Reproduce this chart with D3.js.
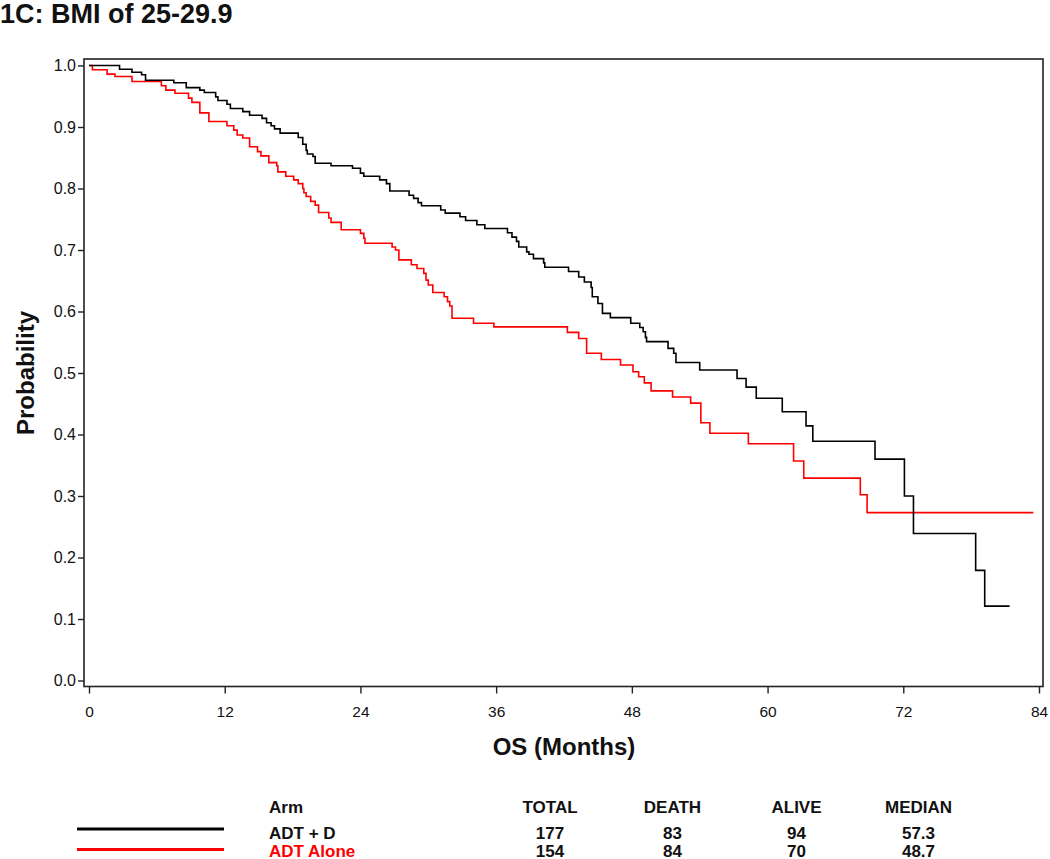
<!DOCTYPE html>
<html>
<head>
<meta charset="utf-8">
<script src="https://cdn.jsdelivr.net/npm/d3@7"></script>
<style>
  body { margin: 0; background: #fff; }
  svg text { font-family: "Liberation Sans", Arial, sans-serif; fill: #111; }
</style>
</head>
<body>
<div class="container"></div>
<script>
// KM step data (months, survival probability)
let blackTimes = [0, 2.7, 3.8, 4.65, 5.0, 7.5, 8.6, 9.8, 10.2, 11.2, 11.4, 12.2, 12.5, 13.6, 14.2, 15.3, 15.7, 16.1, 16.4, 16.9,
    18.5, 18.9, 19.2, 19.3, 19.8, 20.0, 21.4, 23.3, 24.0, 24.3, 25.7, 26.3, 26.6, 28.3, 28.7, 29.1, 29.4, 31.1, 31.5, 32.8,
    33.3, 34.3, 35.0, 37.0, 37.4, 37.8, 38.0, 38.7, 38.9, 39.3, 40.2, 40.3, 42.4, 43.3, 43.8, 44.4, 44.5, 45.0, 45.4, 46.1,
    47.9, 48.7, 49.0, 49.2, 49.3, 51.2, 51.7, 51.9, 54.0, 57.3, 58.1, 59.0, 61.3, 63.4, 64.0, 69.5, 72.1, 72.9, 78.4, 79.2, 81.4];
let blackSurv = [1.0, 0.994, 0.989, 0.985, 0.976, 0.972, 0.964, 0.960, 0.956, 0.949, 0.943, 0.937, 0.930, 0.925, 0.919, 0.914, 0.907, 0.902, 0.897, 0.890,
    0.883, 0.872, 0.862, 0.856, 0.852, 0.841, 0.837, 0.833, 0.825, 0.820, 0.814, 0.808, 0.796, 0.789, 0.784, 0.777, 0.772, 0.765, 0.760, 0.754,
    0.748, 0.741, 0.735, 0.728, 0.721, 0.714, 0.705, 0.697, 0.693, 0.686, 0.679, 0.672, 0.665, 0.656, 0.648, 0.639, 0.624, 0.613, 0.597, 0.590,
    0.581, 0.574, 0.567, 0.558, 0.551, 0.540, 0.532, 0.517, 0.505, 0.491, 0.477, 0.459, 0.437, 0.414, 0.389, 0.360, 0.300, 0.239, 0.179, 0.121, 0.121];

let redTimes = [0, 0.3, 1.6, 2.3, 3.8, 6.4, 6.8, 7.6, 8.8, 9.1, 9.8, 10.6, 12.2, 12.8, 13.1, 13.6, 14.2, 14.9, 15.2, 15.9,
    16.6, 16.7, 17.4, 18.1, 18.5, 18.9, 19.0, 19.2, 19.6, 20.0, 20.3, 21.2, 21.4, 22.3, 24.0, 24.3, 24.4, 26.8, 27.1, 27.4,
    28.5, 29.0, 29.6, 29.8, 30.0, 30.4, 31.4, 31.7, 31.9, 32.1, 34.0, 35.8, 42.3, 43.3, 44.0, 45.3, 47.0, 48.1, 48.6, 49.1,
    49.7, 51.6, 53.2, 54.1, 54.9, 58.3, 62.3, 63.2, 68.2, 68.8, 83.5];
let redSurv = [1.0, 0.993, 0.986, 0.982, 0.974, 0.967, 0.960, 0.955, 0.947, 0.940, 0.923, 0.909, 0.902, 0.895, 0.887, 0.882, 0.868, 0.860, 0.853, 0.842,
    0.837, 0.827, 0.820, 0.814, 0.808, 0.800, 0.793, 0.787, 0.779, 0.773, 0.761, 0.752, 0.745, 0.733, 0.727, 0.719, 0.711, 0.705, 0.700, 0.684,
    0.676, 0.670, 0.662, 0.651, 0.643, 0.631, 0.624, 0.616, 0.609, 0.589, 0.581, 0.575, 0.566, 0.556, 0.532, 0.522, 0.513, 0.502, 0.494, 0.484,
    0.471, 0.461, 0.451, 0.419, 0.402, 0.385, 0.357, 0.329, 0.302, 0.273, 0.273];

let xTicks = [0, 12, 24, 36, 48, 60, 72, 84];
let yTicks = [0, 0.1, 0.2, 0.3, 0.4, 0.5, 0.6, 0.7, 0.8, 0.9, 1.0];

let armNames = ["ADT + D", "ADT Alone"];
let armColors = ["#000000", "#ff0000"];
let tableHeads = ["TOTAL", "DEATH", "ALIVE", "MEDIAN"];
let totals = [177, 154];
let deaths = [83, 84];
let alive = [94, 70];
let medians = ["57.3", "48.7"];

let W = 1050, H = 859;
let frame = { left: 84, right: 1043, top: 59, bottom: 686.5 };

let svg = d3.select(".container")
    .append("svg")
    .attr("width", W)
    .attr("height", H);

let x = d3.scaleLinear().domain([0, 84]).range([89, 1039]);
let y = d3.scaleLinear().domain([0, 1]).range([680.5, 65.5]);

// title
svg.append("text")
    .attr("x", 0)
    .attr("y", 23)
    .style("font-size", "27px")
    .style("font-weight", "bold")
    .text("1C: BMI of 25-29.9");

// frame
svg.append("rect")
    .attr("x", frame.left)
    .attr("y", frame.top)
    .attr("width", frame.right - frame.left)
    .attr("height", frame.bottom - frame.top)
    .attr("fill", "none")
    .attr("stroke", "#222")
    .attr("stroke-width", 1.6);

// axes
let yAxis = svg.append("g")
    .attr("transform", "translate(" + frame.left + ",0)")
    .call(d3.axisLeft(y).tickValues(yTicks).tickFormat(d3.format(".1f")).tickSize(6).tickPadding(2));
yAxis.select(".domain").remove();
yAxis.selectAll("line").attr("stroke", "#222").attr("stroke-width", 1.4);
yAxis.selectAll("text").style("font-size", "16px").style("fill", "#111");

let xAxis = svg.append("g")
    .attr("transform", "translate(0," + frame.bottom + ")")
    .call(d3.axisBottom(x).tickValues(xTicks).tickSize(7).tickPadding(12));
xAxis.select(".domain").remove();
xAxis.selectAll("line").attr("stroke", "#222").attr("stroke-width", 1.4);
xAxis.selectAll("text").style("font-size", "15.5px").style("fill", "#111");

// axis titles
svg.append("text")
    .attr("transform", "translate(34,373) rotate(-90)")
    .attr("text-anchor", "middle")
    .style("font-size", "24px")
    .style("font-weight", "bold")
    .text("Probability");

svg.append("text")
    .attr("x", 564)
    .attr("y", 755)
    .attr("text-anchor", "middle")
    .style("font-size", "24px")
    .style("font-weight", "bold")
    .text("OS (Months)");

// curves
let line = d3.line()
    .x(d => x(d[0]))
    .y(d => y(d[1]))
    .curve(d3.curveStepAfter);

let series = [
    d3.zip(blackTimes, blackSurv),
    d3.zip(redTimes, redSurv)
];

// red first so black sits on top where they cross
[1, 0].forEach(i => {
    svg.append("path")
        .datum(series[i])
        .attr("class", "curve")
        .attr("fill", "none")
        .attr("stroke", armColors[i])
        .attr("stroke-width", 1.6)
        .attr("d", line);
});

// legend table
let colX = [550, 672.5, 796.5, 918.5];
let rowY = [839, 856.5];
let lineY = [829, 849.5];

svg.append("text")
    .attr("x", 269)
    .attr("y", 812.7)
    .style("font-size", "17px")
    .style("font-weight", "bold")
    .text("Arm");

tableHeads.forEach((h, j) => {
    svg.append("text")
        .attr("x", colX[j])
        .attr("y", 812.7)
        .attr("text-anchor", "middle")
        .style("font-size", "17px")
        .style("font-weight", "bold")
        .text(h);
});

armNames.forEach((name, i) => {
    svg.append("line")
        .attr("x1", 77)
        .attr("x2", 224)
        .attr("y1", lineY[i])
        .attr("y2", lineY[i])
        .attr("stroke", armColors[i])
        .attr("stroke-width", 3.2);

    svg.append("text")
        .attr("x", 269)
        .attr("y", rowY[i])
        .style("font-size", "17px")
        .style("font-weight", "bold")
        .style("fill", i == 1 ? "#ff0000" : "#111")
        .text(name);

    let vals = [totals[i], deaths[i], alive[i], medians[i]];
    vals.forEach((v, j) => {
        svg.append("text")
            .attr("x", colX[j])
            .attr("y", rowY[i])
            .attr("text-anchor", "middle")
            .style("font-size", "17px")
            .style("font-weight", "bold")
            .text(v);
    });
});
</script>
</body>
</html>
